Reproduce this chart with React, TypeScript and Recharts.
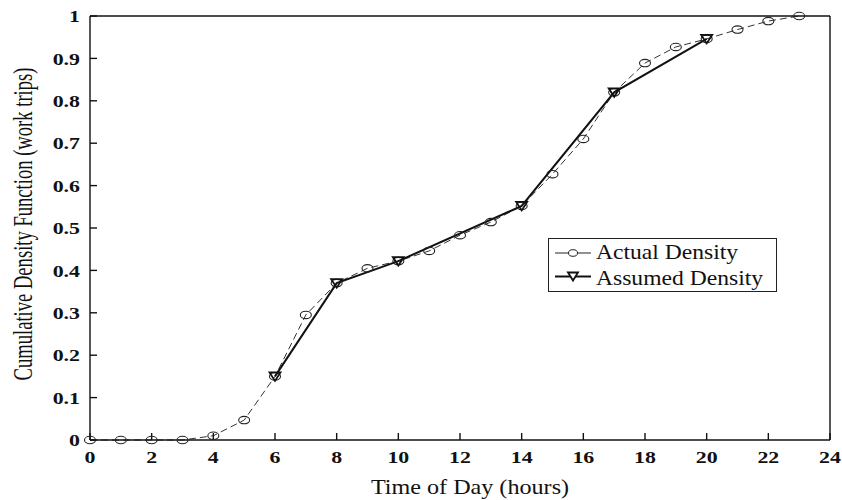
import React from 'react';
import { LineChart, Line, XAxis, YAxis, Legend } from 'recharts';

const hours = [0, 1, 2, 3, 4, 5, 6, 7, 8, 9, 10, 11, 12, 13, 14, 15, 16, 17, 18, 19, 20, 21, 22, 23];
const actualDensity = [0, 0, 0, 0, 0.01, 0.047, 0.15, 0.295, 0.37, 0.405, 0.422, 0.446, 0.483, 0.514, 0.552, 0.627, 0.71, 0.82, 0.889, 0.927, 0.946, 0.968, 0.988, 1.0];
const assumedHours = [6, 8, 10, 14, 17, 20];
const assumedDensity = [0.15, 0.37, 0.422, 0.552, 0.82, 0.946];
const xTicks = [0, 2, 4, 6, 8, 10, 12, 14, 16, 18, 20, 22, 24];
const yTicks = [0, 0.1, 0.2, 0.3, 0.4, 0.5, 0.6, 0.7, 0.8, 0.9, 1];

const actualData = hours.map((h, i) => ({ hour: h, value: actualDensity[i] }));
const assumedData = assumedHours.map((h, i) => ({ hour: h, value: assumedDensity[i] }));

const FONT = '"Liberation Serif", "Times New Roman", serif';
const INK = '#111';

const XTick = (props: any) => {
  const { x, y, payload } = props;
  return (
    <text
      x={x}
      y={y}
      dy="0.71em"
      textAnchor="middle"
      fontFamily={FONT}
      fontSize={17.5}
      fontWeight="bold"
      fill={INK}
      transform={`translate(${x} ${y}) scale(1.25 1) translate(${-x} ${-y})`}
    >
      {String(payload.value)}
    </text>
  );
};

const YTick = (props: any) => {
  const { x, y, payload } = props;
  return (
    <text
      x={x}
      y={y}
      dy="0.355em"
      textAnchor="end"
      fontFamily={FONT}
      fontSize={17.5}
      fontWeight="bold"
      fill={INK}
      transform={`translate(${x} ${y}) scale(1.25 1) translate(${-x} ${-y})`}
    >
      {String(payload.value)}
    </text>
  );
};

const NoTick = () => <g />;

const CircleDot = (props: any) => {
  const { cx, cy, index } = props;
  if (cx == null || cy == null) return <g key={`c${index}`} />;
  return <ellipse key={`c${index}`} cx={cx} cy={cy} rx={5.5} ry={3.7} fill="none" stroke="#222" strokeWidth={1.1} />;
};

const TriDot = (props: any) => {
  const { cx, cy, index } = props;
  if (cx == null || cy == null) return <g key={`t${index}`} />;
  return (
    <path
      key={`t${index}`}
      d={`M${cx - 5.5},${cy - 4} L${cx + 5.5},${cy - 4} L${cx},${cy + 4.5} Z`}
      fill="none"
      stroke={INK}
      strokeWidth={1.8}
      strokeLinejoin="miter"
    />
  );
};

const LegendBox = () => (
  <svg width={230} height={55} style={{ display: 'block' }}>
    <rect x={0.5} y={0.5} width={228} height={53} fill="white" stroke="#222" strokeWidth={1} />
    <line x1={7} x2={43} y1={15} y2={15} stroke="#222" strokeWidth={1} />
    <ellipse cx={25} cy={15} rx={4.5} ry={3.3} fill="white" stroke="#222" strokeWidth={1} />
    <text
      x={48}
      y={21.5}
      fontFamily={FONT}
      fontSize={20}
      fill={INK}
      transform="translate(48 0) scale(1.18 1) translate(-48 0)"
    >
      Actual Density
    </text>
    <line x1={7} x2={43} y1={38.5} y2={38.5} stroke={INK} strokeWidth={2} />
    <path d="M20,34.5 L30,34.5 L25,42.5 Z" fill="white" stroke={INK} strokeWidth={1.8} />
    <text
      x={48}
      y={47}
      fontFamily={FONT}
      fontSize={20}
      fill={INK}
      transform="translate(48 0) scale(1.18 1) translate(-48 0)"
    >
      Assumed Density
    </text>
  </svg>
);

const YTitle = () => (
  <text
    transform="translate(32 224) scale(1.5 1) rotate(-90)"
    textAnchor="middle"
    fontFamily={FONT}
    fontSize={18.6}
    fill={INK}
  >
    Cumulative Density Function (work trips)
  </text>
);

const XTitle = () => (
  <text
    x={470}
    y={494}
    textAnchor="middle"
    fontFamily={FONT}
    fontSize={21}
    fill={INK}
    transform="translate(470 494) scale(1.15 1) translate(-470 -494)"
  >
    Time of Day (hours)
  </text>
);

export default function App() {
  return (
    <div style={{ position: 'absolute', left: 0, top: 0, width: 842, height: 500, background: 'white' }}>
      <LineChart width={842} height={500} margin={{ top: 15, right: 11, bottom: 0, left: 30 }}>
        <XAxis
          xAxisId="bottom"
          dataKey="hour"
          type="number"
          domain={[0, 24]}
          ticks={xTicks}
          orientation="bottom"
          height={60}
          tickSize={-7}
          tickMargin={18}
          tick={<XTick />}
          stroke={INK}
          strokeWidth={1.4}
          allowDuplicatedCategory={false}
          label={{ content: () => <XTitle /> }}
        />
        <XAxis
          xAxisId="top"
          dataKey="hour"
          type="number"
          domain={[0, 24]}
          ticks={xTicks}
          orientation="top"
          height={1}
          tickSize={-7}
          tick={<NoTick />}
          stroke={INK}
          strokeWidth={1.4}
        />
        <YAxis
          yAxisId="left"
          type="number"
          domain={[0, 1]}
          ticks={yTicks}
          orientation="left"
          width={60}
          tickSize={-7}
          tickMargin={17}
          tick={<YTick />}
          stroke={INK}
          strokeWidth={1.4}
          label={{ content: () => <YTitle /> }}
        />
        <YAxis
          yAxisId="right"
          type="number"
          domain={[0, 1]}
          ticks={yTicks}
          orientation="right"
          width={1}
          tickSize={-7}
          tick={<NoTick />}
          stroke={INK}
          strokeWidth={1.4}
        />
        <Line
          xAxisId="bottom"
          yAxisId="left"
          data={actualData}
          dataKey="value"
          name="Actual Density"
          type="linear"
          stroke="#333"
          strokeWidth={1}
          strokeDasharray="7 4"
          dot={CircleDot}
          activeDot={false}
          isAnimationActive={false}
        />
        <Line
          xAxisId="bottom"
          yAxisId="left"
          data={assumedData}
          dataKey="value"
          name="Assumed Density"
          type="linear"
          stroke={INK}
          strokeWidth={2}
          dot={TriDot}
          activeDot={false}
          isAnimationActive={false}
        />
        <Legend
          layout="vertical"
          align="center"
          verticalAlign="middle"
          wrapperStyle={{ left: 548, top: 238, width: 230 }}
          content={() => <LegendBox />}
        />
      </LineChart>
    </div>
  );
}
